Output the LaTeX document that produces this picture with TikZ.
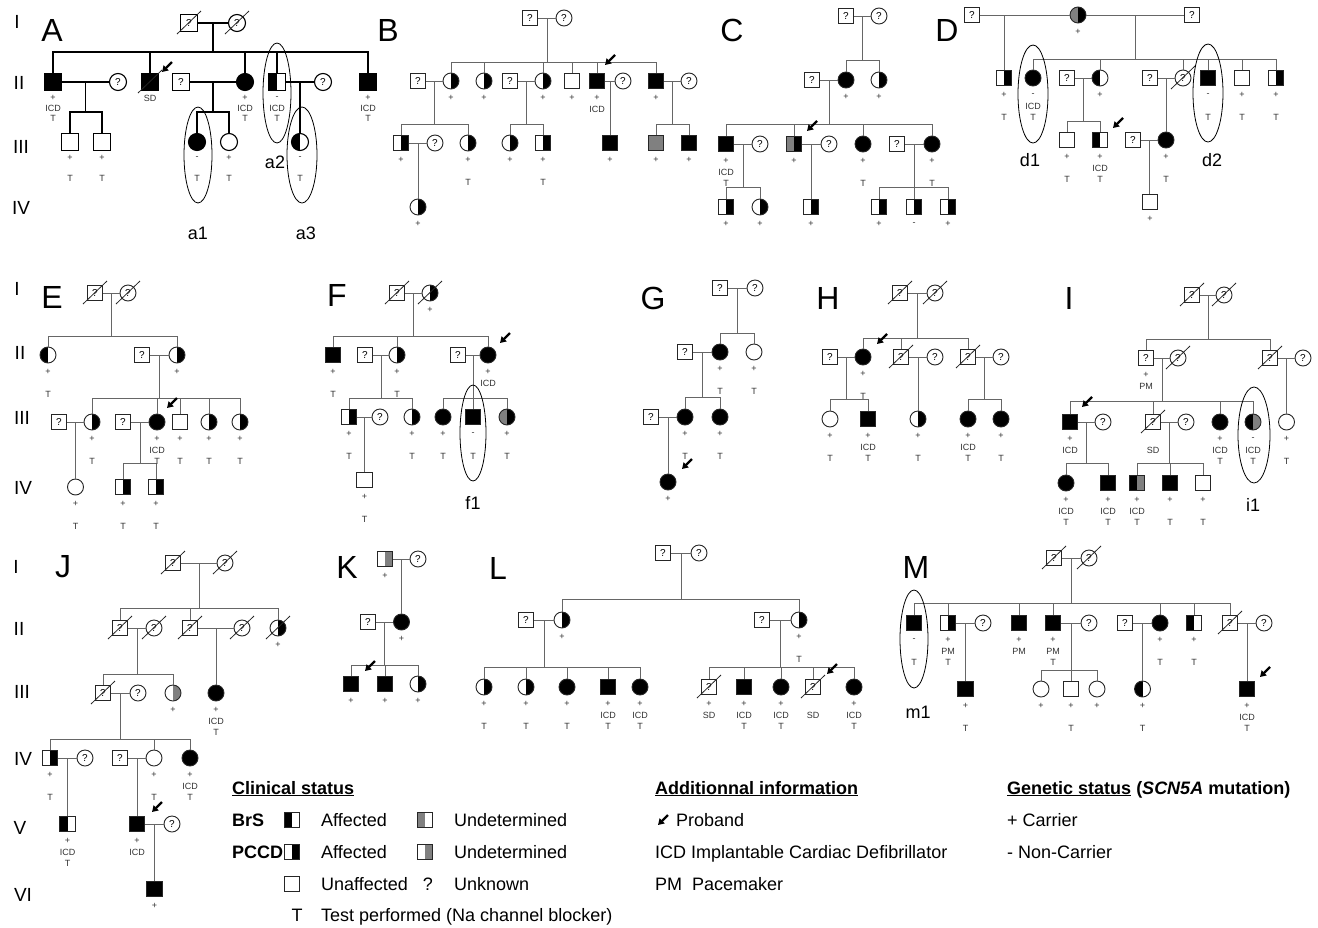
\documentclass[tikz,border=0pt]{standalone}
\usepackage{fontspec}
\setmainfont{Liberation Sans}
\usetikzlibrary{calc,arrows.meta}
\definecolor{gr}{gray}{0.5}
\newcommand\Dead[1]{\draw[line width=0.8pt,black!85] ([shift={(-12pt,-11pt)}]#1.center) -- ([shift={(12pt,12pt)}]#1.center);}
\newcommand\Mar[3]{\draw[ln] (#1) -- (#2); \coordinate (#3) at ($(#1)!0.5!(#2)$);}
\newcommand\Kids[3]{\draw[ln] (#1) -- (#1 |- 0,#2); \foreach \cc in {#3}{\draw[ln] (#1 |- 0,#2) -| (\cc.north);}}
\newcommand\One[2]{\draw[ln] (#1) -- (#1 |- #2.north);}
\newcommand\Prb[3]{\draw[prb] ([shift={(#2pt+10pt,#3pt+10pt)}]#1.center) -- ([shift={(#2pt,#3pt)}]#1.center);}
\def\oA{17pt}\def\oB{28pt}\def\oC{39pt}
\newcommand\Inf[4]{%
 \ifx&#2&\else\node[lbl] (#1a) at ([yshift=-\oA]#1.center) {#2};\fi
 \ifx&#3&\else\node[lbl] (#1b) at ([yshift=-\oB]#1.center) {#3};\fi
 \ifx&#4&\else\node[lbl] (#1c) at ([yshift=-\oC]#1.center) {#4};\fi}
\tikzset{
 sym/.style={draw=black!85, line width=0.9pt, inner sep=0pt, font=\fontsize{10}{10}\selectfont},
 sq/.style={sym, rectangle, minimum size=15.5pt},
 ci/.style={sym, circle, minimum size=16pt},
 blk/.style={fill=black},
 gry/.style={fill=gr},
 Lb/.style={path picture={\fill[black] (path picture bounding box.south west) rectangle (path picture bounding box.north);}},
 Rb/.style={path picture={\fill[black] (path picture bounding box.south) rectangle (path picture bounding box.north east);}},
 Lg/.style={path picture={\fill[gr] (path picture bounding box.south west) rectangle (path picture bounding box.north);}},
 Rg/.style={path picture={\fill[gr] (path picture bounding box.south) rectangle (path picture bounding box.north east);}},
 ln/.style={draw=black!60, line width=0.9pt},
 lbl/.style={font=\fontsize{9}{9}\selectfont, inner sep=0pt, text=black!80},
 gen/.style={font=\fontsize{19}{19}\selectfont, inner sep=0pt},
 pan/.style={font=\fontsize{32}{32}\selectfont, inner sep=0pt},
 elab/.style={font=\fontsize{18}{18}\selectfont, inner sep=0pt},
 oval/.style={draw=black, line width=0.8pt},
 prb/.style={line width=2.2pt, -{Triangle[length=6pt,width=7pt]}},
 lg/.style={font=\fontsize{18}{18}\selectfont, inner sep=0pt, anchor=base west},
}
\begin{document}
\begin{tikzpicture}[x=1pt,y=-1pt]
\fill[white] (0,0) rectangle (1318,927);
\useasboundingbox (0,0) rectangle (1318,927);
% generation labels
\node[gen] (g1) at (17,22) {I};
\node[gen] (g2) at (19,83) {II};
\node[gen] (g3) at (21,147) {III};
\node[gen] (g4) at (21,208) {IV};
\node[gen] (g5) at (17,289) {I};
\node[gen] (g6) at (20,353) {II};
\node[gen] (g7) at (22,418) {III};
\node[gen] (g8) at (23,488) {IV};
\node[gen] (g9) at (16,567) {I};
\node[gen] (g10) at (19,629) {II};
\node[gen] (g11) at (22,692) {III};
\node[gen] (g12) at (23,759) {IV};
\node[gen] (g13) at (20,828) {V};
\node[gen] (g14) at (23,895) {VI};
% panel letters
\node[pan] (pA) at (52,30) {A};
\node[pan] (pB) at (388,30) {B};
\node[pan] (pC) at (732,30) {C};
\node[pan] (pD) at (947,30) {D};
\node[pan] (pE) at (52,297) {E};
\node[pan] (pF) at (337,295) {F};
\node[pan] (pG) at (653,298) {G};
\node[pan] (pH) at (828,298) {H};
\node[pan] (pI) at (1069,298) {I};
\node[pan] (pJ) at (63,567) {J};
\node[pan] (pK) at (347,567) {K};
\node[pan] (pL) at (498,568) {L};
\node[pan] (pM) at (916,567) {M};

% ================= A
\begin{scope}[ln/.style={draw=black,line width=1.3pt}, sym/.append style={line width=1.1pt,draw=black}, sq/.append style={minimum size=17pt}, ci/.append style={minimum size=17pt}]
\def\oA{16pt}\def\oB{26pt}\def\oC{36pt}
\node[sq] (A1) at (189,23) {?}; \Dead{A1}
\node[ci] (A2) at (237,23) {?}; \Dead{A2}
\Mar{A1}{A2}{Am}
\node[sq,blk] (A3) at (53,82) {};
\node[ci] (A4) at (118,82) {?};
\node[sq,blk] (A5) at (150,82) {}; \Dead{A5}
\node[sq] (A6) at (181,82) {?};
\node[ci,blk] (A7) at (245,82) {};
\node[sq,Lb] (A8) at (277,82) {};
\node[ci] (A9) at (323,82) {?};
\node[sq,blk] (A10) at (368,82) {};
\Kids{Am}{52}{A3,A5,A7,A8,A10}
\Mar{A3}{A4}{Am2} \Mar{A6}{A7}{Am3} \Mar{A8}{A9}{Am4}
\node[sq] (A11) at (70,142) {};
\node[sq] (A12) at (102,142) {};
\node[ci,blk] (A13) at (197,142) {};
\node[ci] (A14) at (229,142) {};
\node[ci,Lb] (A15) at (300,142) {};
\Kids{Am2}{112}{A11,A12} \Kids{Am3}{112}{A13,A14} \One{Am4}{A15}
\Inf{A3}{+}{ICD}{T} \Inf{A5}{SD}{}{} \Inf{A7}{+}{ICD}{T} \Inf{A8}{-}{ICD}{T} \Inf{A10}{+}{ICD}{T}
\Inf{A11}{+}{}{T} \Inf{A12}{+}{}{T} \Inf{A13}{-}{}{T} \Inf{A14}{+}{}{T} \Inf{A15}{-}{}{T}
\Prb{A5}{12}{10}
\draw[oval] (198,155) ellipse [x radius=14, y radius=48];
\draw[oval] (277,93) ellipse [x radius=14, y radius=50];
\draw[oval] (302,155) ellipse [x radius=15, y radius=48];
\node[elab] (a1) at (198,233) {a1};
\node[elab] (a2) at (275,162) {a2};
\node[elab] (a3) at (306,233) {a3};
\end{scope}

% ================= B
\node[sq] (B1) at (530,18) {?};
\node[ci] (B2) at (564,18) {?};
\Mar{B1}{B2}{Bm}
\node[sq] (B3) at (418,81) {?};
\node[ci,Rb] (B4) at (451,81) {};
\node[ci,Rb] (B5) at (484,81) {};
\node[sq] (B6) at (510,81) {?};
\node[ci,Rb] (B7) at (543,81) {};
\node[sq] (B8) at (572,81) {};
\node[sq,blk] (B9) at (597,81) {};
\node[ci] (B10) at (623,81) {?};
\node[sq,blk] (B11) at (656,81) {};
\node[ci] (B12) at (689,81) {?};
\Kids{Bm}{62}{B4,B5,B7,B8,B9,B11}
\Mar{B3}{B4}{Bm2} \Mar{B6}{B7}{Bm3} \Mar{B9}{B10}{Bm4} \Mar{B11}{B12}{Bm5}
\node[sq,Rb] (B13) at (401,143) {};
\node[ci] (B14) at (435,143) {?};
\node[ci,Rb] (B15) at (468,143) {};
\node[ci,Rb] (B16) at (510,143) {};
\node[sq,Rb] (B17) at (543,143) {};
\node[sq,blk] (B18) at (610,143) {};
\node[sq,gry] (B19) at (656,143) {};
\node[sq,blk] (B20) at (689,143) {};
\Kids{Bm2}{124}{B13,B15} \Kids{Bm3}{124}{B16,B17} \One{Bm4}{B18} \Kids{Bm5}{124}{B19,B20}
\Mar{B13}{B14}{Bm6}
\node[ci,Rb] (B21) at (418,207) {};
\One{Bm6}{B21}
\Inf{B4}{+}{}{} \Inf{B5}{+}{}{} \Inf{B7}{+}{}{} \Inf{B8}{+}{}{} \Inf{B9}{+}{ICD}{} \Inf{B11}{+}{}{}
\Inf{B13}{+}{}{} \Inf{B15}{+}{}{T} \Inf{B16}{+}{}{} \Inf{B17}{+}{}{T} \Inf{B18}{+}{}{} \Inf{B19}{+}{}{} \Inf{B20}{+}{}{} \Inf{B21}{+}{}{}
\Prb{B9}{8}{16}

% ================= C
\node[sq] (C1) at (846,16) {?};
\node[ci] (C2) at (879,16) {?};
\Mar{C1}{C2}{Cm}
\node[sq] (C3) at (812,80) {?};
\node[ci,blk] (C4) at (846,80) {};
\node[ci,Rb] (C5) at (879,80) {};
\Kids{Cm}{60}{C4,C5}
\Mar{C3}{C4}{Cm2}
\node[sq,blk] (C6) at (726,144) {};
\node[ci] (C7) at (760,144) {?};
\node[sq,gry,Rb] (C8) at (794,144) {};
\node[ci] (C9) at (829,144) {?};
\node[ci,blk] (C10) at (863,144) {};
\node[sq] (C11) at (897,144) {?};
\node[ci,blk] (C12) at (932,144) {};
\Kids{Cm2}{124}{C6,C8,C10,C12}
\Mar{C6}{C7}{Cm3} \Mar{C8}{C9}{Cm4} \Mar{C11}{C12}{Cm5}
\node[sq,Rb] (C13) at (726,207) {};
\node[ci,Rb] (C14) at (760,207) {};
\node[sq,Rb] (C15) at (811,207) {};
\node[sq,Rb] (C16) at (879,207) {};
\node[sq,Rb] (C17) at (914,207) {};
\node[sq,Rb] (C18) at (948,207) {};
\Kids{Cm3}{187}{C13,C14} \One{Cm4}{C15} \Kids{Cm5}{187}{C16,C17,C18}
\Inf{C4}{+}{}{} \Inf{C5}{+}{}{} \Inf{C6}{+}{ICD}{T} \Inf{C8}{+}{}{} \Inf{C10}{+}{}{T} \Inf{C12}{+}{}{T}
\Inf{C13}{+}{}{} \Inf{C14}{+}{}{} \Inf{C15}{+}{}{} \Inf{C16}{+}{}{} \Inf{C17}{-}{}{} \Inf{C18}{+}{}{}
\Prb{C8}{13}{13}

% ================= D
\node[sq] (D1) at (972,15) {?};
\node[ci,gry,Rb] (D2) at (1078,15) {};
\node[sq] (D3) at (1192,15) {?};
\draw[ln] (D1) -- (D2);
\Mar{D2}{D3}{Dm}
\node[sq,Rb] (D4) at (1004,78) {};
\draw[ln] (D4 |- D1) -- (D4.north);
\node[ci,blk] (D5) at (1033,78) {};
\node[sq] (D6) at (1067,78) {?};
\node[ci,Lb] (D7) at (1100,78) {};
\node[sq] (D8) at (1150,78) {?};
\node[ci] (D9) at (1183,78) {?}; \Dead{D9}
\node[sq,blk] (D10) at (1208,78) {};
\node[sq] (D11) at (1242,78) {};
\node[sq,Rb] (D12) at (1276,78) {};
\Kids{Dm}{59}{D5,D7,D9,D10,D11,D12}
\Mar{D6}{D7}{Dm2} \Mar{D8}{D9}{Dm3}
\node[sq] (D13) at (1067,140) {};
\node[sq,Lb] (D14) at (1100,140) {};
\node[sq] (D15) at (1133,140) {?};
\node[ci,blk] (D16) at (1166,140) {};
\Kids{Dm2}{121}{D13,D14} \One{Dm3}{D16}
\Mar{D15}{D16}{Dm4}
\node[sq] (D17) at (1150,202) {};
\One{Dm4}{D17}
\Inf{D2}{+}{}{} \Inf{D4}{+}{}{T} \Inf{D5}{-}{ICD}{T} \Inf{D7}{+}{}{} \Inf{D10}{-}{}{T} \Inf{D11}{+}{}{T} \Inf{D12}{+}{}{T}
\Inf{D13}{+}{}{T} \Inf{D14}{+}{ICD}{T} \Inf{D16}{+}{}{T} \Inf{D17}{+}{}{}
\Prb{D14}{13}{12}
\draw[oval] (1033,94) ellipse [x radius=15, y radius=49];
\draw[oval] (1208,93) ellipse [x radius=15, y radius=49];
\node[elab] (d1) at (1030,160) {d1};
\node[elab] (d2) at (1212,160) {d2};

% ================= E
\node[sq] (E1) at (95,293) {?}; \Dead{E1}
\node[ci] (E2) at (128,293) {?}; \Dead{E2}
\Mar{E1}{E2}{Em}
\node[ci,Lb] (E3) at (48,355) {};
\node[sq] (E4) at (142,355) {?};
\node[ci,Rb] (E5) at (177,355) {};
\Kids{Em}{336}{E3,E5}
\Mar{E4}{E5}{Em2}
\node[sq] (E6) at (59,422) {?};
\node[ci,Rb] (E7) at (92,422) {};
\node[sq] (E8) at (123,422) {?};
\node[ci,blk] (E9) at (157,422) {};
\node[sq] (E10) at (180,422) {};
\node[ci,Rb] (E11) at (209,422) {};
\node[ci,Rb] (E12) at (240,422) {};
\Kids{Em2}{398}{E7,E9,E10,E11,E12}
\Mar{E6}{E7}{Em3} \Mar{E8}{E9}{Em4}
\node[ci] (E13) at (75.5,487) {};
\node[sq,Rb] (E14) at (123,487) {};
\node[sq,Rb] (E15) at (156,487) {};
\One{Em3}{E13} \Kids{Em4}{463}{E14,E15}
\Inf{E3}{+}{}{T} \Inf{E5}{+}{}{} \Inf{E7}{+}{}{T} \Inf{E9}{+}{ICD}{T} \Inf{E10}{+}{}{T} \Inf{E11}{+}{}{T} \Inf{E12}{+}{}{T}
\Inf{E13}{+}{}{T} \Inf{E14}{+}{}{T} \Inf{E15}{+}{}{T}
\Prb{E9}{10}{14}

% ================= F
\node[sq] (F1) at (397,293) {?}; \Dead{F1}
\node[ci,Rb] (F2) at (430,293) {}; \Dead{F2}
\Mar{F1}{F2}{Fm}
\node[sq,blk] (F3) at (333,355) {};
\node[sq] (F4) at (365,355) {?};
\node[ci,Rb] (F5) at (397,355) {};
\node[sq] (F6) at (458,355) {?};
\node[ci,blk] (F7) at (488,355) {};
\Kids{Fm}{336}{F3,F5,F7}
\Mar{F4}{F5}{Fm2} \Mar{F6}{F7}{Fm3}
\node[sq,Rb] (F8) at (349,417) {};
\node[ci] (F9) at (380,417) {?};
\node[ci,Rb] (F10) at (412,417) {};
\node[ci,blk] (F11) at (443,417) {};
\node[sq,blk] (F12) at (473,417) {};
\node[ci,gry,Rb] (F13) at (507,417) {};
\Kids{Fm2}{398}{F8,F10} \Kids{Fm3}{398}{F11,F12,F13}
\Mar{F8}{F9}{Fm4}
\node[sq] (F14) at (364.5,480) {};
\One{Fm4}{F14}
\Inf{F2}{+}{}{} \Inf{F3}{+}{}{T} \Inf{F5}{+}{}{T} \Inf{F7}{+}{ICD}{}
\Inf{F8}{+}{}{T} \Inf{F10}{+}{}{T} \Inf{F11}{+}{}{T} \Inf{F12}{-}{}{T} \Inf{F13}{+}{}{T} \Inf{F14}{+}{}{T}
\Prb{F7}{12}{12}
\draw[oval] (473,433) ellipse [x radius=13, y radius=48];
\node[elab] (f1) at (473,503) {f1};

% ================= G
\node[sq] (G1) at (720,288) {?};
\node[ci] (G2) at (755,288) {?};
\Mar{G1}{G2}{Gm}
\node[sq] (G3) at (685,352) {?};
\node[ci,blk] (G4) at (720,352) {};
\node[ci] (G5) at (754,352) {};
\Kids{Gm}{333}{G4,G5}
\Mar{G3}{G4}{Gm2}
\node[sq] (G6) at (651,417) {?};
\node[ci,blk] (G7) at (685,417) {};
\node[ci,blk] (G8) at (720,417) {};
\Kids{Gm2}{397}{G7,G8}
\Mar{G6}{G7}{Gm3}
\node[ci,blk] (G9) at (668,482) {};
\One{Gm3}{G9}
\Inf{G4}{+}{}{T} \Inf{G5}{+}{}{T} \Inf{G7}{+}{}{T} \Inf{G8}{+}{}{T} \Inf{G9}{+}{}{}
\Prb{G9}{14}{13}

% ================= H
\node[sq] (H1) at (900,293) {?}; \Dead{H1}
\node[ci] (H2) at (935,293) {?}; \Dead{H2}
\Mar{H1}{H2}{Hm}
\node[sq] (H3) at (830,357) {?};
\node[ci,blk] (H4) at (863,357) {};
\node[sq] (H5) at (901,357) {?}; \Dead{H5}
\node[ci] (H6) at (935,357) {?};
\node[sq] (H7) at (968,357) {?}; \Dead{H7}
\node[ci] (H8) at (1001,357) {?};
\Kids{Hm}{338}{H4,H5,H7}
\Mar{H3}{H4}{Hm2} \Mar{H5}{H6}{Hm3} \Mar{H7}{H8}{Hm4}
\node[ci] (H9) at (830,419) {};
\node[sq,blk] (H10) at (868,419) {};
\node[ci,Rb] (H11) at (918,419) {};
\node[ci,blk] (H12) at (968,419) {};
\node[ci,blk] (H13) at (1001,419) {};
\Kids{Hm2}{399}{H9,H10} \One{Hm3}{H11} \Kids{Hm4}{399}{H12,H13}
\Inf{H4}{+}{}{T} \Inf{H9}{+}{}{T} \Inf{H10}{+}{ICD}{T} \Inf{H11}{+}{}{T} \Inf{H12}{+}{ICD}{T} \Inf{H13}{+}{}{T}
\Prb{H4}{14}{13}

% ================= I
\node[sq] (I1) at (1192,295) {?}; \Dead{I1}
\node[ci] (I2) at (1224,295) {?}; \Dead{I2}
\Mar{I1}{I2}{Im}
\node[sq] (I3) at (1146,358) {?};
\node[ci] (I4) at (1178,358) {?}; \Dead{I4}
\node[sq] (I5) at (1270,358) {?}; \Dead{I5}
\node[ci] (I6) at (1303,358) {?};
\Kids{Im}{339}{I3,I5}
\Mar{I3}{I4}{Im2} \Mar{I5}{I6}{Im3}
\node[sq,blk] (I7) at (1070,422) {};
\node[ci] (I8) at (1103,422) {?};
\node[sq] (I9) at (1153,422) {?}; \Dead{I9}
\node[ci] (I10) at (1186,422) {?};
\node[ci,blk] (I11) at (1220,422) {};
\node[ci,gry,Lb] (I12) at (1253,422) {};
\node[ci] (I13) at (1286.5,422) {};
\Kids{Im2}{401}{I7,I9,I11,I12} \One{Im3}{I13}
\Mar{I7}{I8}{Im4} \Mar{I9}{I10}{Im5}
\node[ci,blk] (I14) at (1066,483) {};
\node[sq,blk] (I15) at (1108,483) {};
\node[sq,gry,Lb] (I16) at (1137,483) {};
\node[sq,blk] (I17) at (1170,483) {};
\node[sq] (I18) at (1203,483) {};
\Kids{Im4}{463}{I14,I15} \Kids{Im5}{463}{I16,I17,I18}
\Inf{I3}{+}{PM}{} \Inf{I7}{+}{ICD}{} \Inf{I9}{}{SD}{} \Inf{I11}{+}{ICD}{T} \Inf{I12}{-}{ICD}{T} \Inf{I13}{+}{}{T}
\Inf{I14}{+}{ICD}{T} \Inf{I15}{+}{ICD}{T} \Inf{I16}{+}{ICD}{T} \Inf{I17}{+}{}{T} \Inf{I18}{+}{}{T}
\Prb{I7}{12}{15}
\draw[oval] (1254,435) ellipse [x radius=16, y radius=48];
\node[elab] (i1) at (1253,505) {i1};

% ================= J
\node[sq] (J1) at (173,563) {?}; \Dead{J1}
\node[ci] (J2) at (225,563) {?}; \Dead{J2}
\Mar{J1}{J2}{Jm}
\node[sq] (J3) at (120,628) {?}; \Dead{J3}
\node[ci] (J4) at (154,628) {?}; \Dead{J4}
\node[sq] (J5) at (190,628) {?}; \Dead{J5}
\node[ci] (J6) at (242,628) {?}; \Dead{J6}
\node[ci,Rb] (J7) at (278,628) {}; \Dead{J7}
\Kids{Jm}{608}{J3,J5,J7}
\Mar{J3}{J4}{Jm2} \Mar{J5}{J6}{Jm3}
\node[sq] (J8) at (103,693) {?}; \Dead{J8}
\node[ci] (J9) at (138,693) {?};
\node[ci,Rg] (J10) at (173,693) {};
\node[ci,blk] (J11) at (216,693) {};
\Kids{Jm2}{674}{J8,J10} \One{Jm3}{J11}
\Mar{J8}{J9}{Jm4}
\node[sq,Rb] (J12) at (50,758) {};
\node[ci] (J13) at (85,758) {?};
\node[sq] (J14) at (120,758) {?};
\node[ci] (J15) at (154,758) {};
\node[ci,blk] (J16) at (190,758) {};
\Kids{Jm4}{739}{J12,J15,J16}
\Mar{J12}{J13}{Jm5} \Mar{J14}{J15}{Jm6}
\node[sq,Lb] (J17) at (67.5,824) {};
\node[sq,blk] (J18) at (137,824) {};
\node[ci] (J19) at (172,824) {?};
\One{Jm5}{J17} \One{Jm6}{J18}
\Mar{J18}{J19}{Jm7}
\node[sq,blk] (J20) at (154.5,889) {};
\One{Jm7}{J20}
\Inf{J7}{+}{}{} \Inf{J10}{+}{}{} \Inf{J11}{+}{ICD}{T} \Inf{J12}{+}{}{T} \Inf{J15}{+}{}{T} \Inf{J16}{+}{ICD}{T}
\Inf{J17}{+}{ICD}{T} \Inf{J18}{+}{ICD}{} \Inf{J20}{+}{}{}
\Prb{J18}{15}{12}

% ================= K
\node[sq,Rg] (K1) at (385,559) {};
\node[ci] (K2) at (418,559) {?};
\Mar{K1}{K2}{Km}
\node[sq] (K3) at (368,622) {?};
\node[ci,blk] (K4) at (401.5,622) {};
\One{Km}{K4}
\Mar{K3}{K4}{Km2}
\node[sq,blk] (K5) at (351,684) {};
\node[sq,blk] (K6) at (385,684) {};
\node[ci,Rb] (K7) at (418,684) {};
\Kids{Km2}{665}{K5,K6,K7}
\Inf{K1}{+}{}{} \Inf{K4}{+}{}{} \Inf{K5}{+}{}{} \Inf{K6}{+}{}{} \Inf{K7}{+}{}{}
\Prb{K5}{14}{13}

% ================= L
\node[sq] (L1) at (663,553) {?};
\node[ci] (L2) at (699,553) {?};
\Mar{L1}{L2}{Lm}
\node[sq] (L3) at (526,620) {?};
\node[ci,Rb] (L4) at (562,620) {};
\node[sq] (L5) at (762,620) {?};
\node[ci,Rb] (L6) at (799,620) {};
\Kids{Lm}{599}{L4,L6}
\Mar{L3}{L4}{Lm2} \Mar{L5}{L6}{Lm3}
\node[ci,Rb] (L7) at (484,687) {};
\node[ci,Rb] (L8) at (526,687) {};
\node[ci,blk] (L9) at (567,687) {};
\node[sq,blk] (L10) at (608,687) {};
\node[ci,blk] (L11) at (640,687) {};
\node[sq] (L12) at (709,687) {?}; \Dead{L12}
\node[sq,blk] (L13) at (744,687) {};
\node[ci,blk] (L14) at (781,687) {};
\node[sq] (L15) at (813,687) {?}; \Dead{L15}
\node[ci,blk] (L16) at (854,687) {};
\Kids{Lm2}{667}{L7,L8,L9,L10,L11} \Kids{Lm3}{667}{L12,L13,L14,L15,L16}
\Inf{L4}{+}{}{} \Inf{L6}{+}{}{T}
\Inf{L7}{+}{}{T} \Inf{L8}{+}{}{T} \Inf{L9}{+}{}{T} \Inf{L10}{+}{ICD}{T} \Inf{L11}{+}{ICD}{T}
\Inf{L12}{+}{SD}{} \Inf{L13}{+}{ICD}{T} \Inf{L14}{+}{ICD}{T} \Inf{L15}{}{SD}{} \Inf{L16}{+}{ICD}{T}
\Prb{L15}{14}{13}

% ================= M
\node[sq] (M1) at (1054,558) {?}; \Dead{M1}
\node[ci] (M2) at (1089,558) {?}; \Dead{M2}
\Mar{M1}{M2}{Mm}
\node[sq,blk] (M3) at (914,623) {};
\node[sq,Rb] (M4) at (948,623) {};
\node[ci] (M5) at (983,623) {?};
\node[sq,blk] (M6) at (1019,623) {};
\node[sq,blk] (M7) at (1053,623) {};
\node[ci] (M8) at (1089,623) {?};
\node[sq] (M9) at (1125,623) {?};
\node[ci,blk] (M10) at (1160,623) {};
\node[sq,Lb] (M11) at (1194,623) {};
\node[sq] (M12) at (1230,623) {?}; \Dead{M12}
\node[ci] (M13) at (1264,623) {?};
\Kids{Mm}{603}{M3,M4,M6,M7,M10,M11,M12}
\Mar{M4}{M5}{Mm2} \Mar{M7}{M8}{Mm3} \Mar{M9}{M10}{Mm4} \Mar{M12}{M13}{Mm5}
\node[sq,blk] (M14) at (965.5,689) {};
\node[ci] (M15) at (1041,689) {};
\node[sq] (M16) at (1071,689) {};
\node[ci] (M17) at (1097,689) {};
\node[ci,Lb] (M18) at (1142.5,689) {};
\node[sq,blk] (M19) at (1247,689) {};
\One{Mm2}{M14} \Kids{Mm3}{670}{M15,M16,M17} \One{Mm4}{M18} \One{Mm5}{M19}
\Inf{M3}{-}{}{T} \Inf{M4}{+}{PM}{T} \Inf{M6}{+}{PM}{} \Inf{M7}{+}{PM}{T} \Inf{M10}{+}{}{T} \Inf{M11}{+}{}{T}
\Inf{M14}{+}{}{T} \Inf{M15}{+}{}{} \Inf{M16}{+}{}{T} \Inf{M17}{+}{}{} \Inf{M18}{+}{}{T} \Inf{M19}{+}{ICD}{T}
\Prb{M19}{13}{12}
\draw[oval] (914,639) ellipse [x radius=14, y radius=49];
\node[elab] (m1) at (918,712) {m1};

% ================= legend
\node[lg] (lg1) at (232,794) {\textbf{\underline{Clinical status}}};
\node[lg] (lg2) at (232,826.5) {\textbf{BrS}};
\node[sq,Lb,minimum size=15pt] (lg3) at (292,820) {};
\node[lg] (lg4) at (321,826.5) {Affected};
\node[sq,Lg,minimum size=15pt] (lg5) at (425,820) {};
\node[lg] (lg6) at (454,826.5) {Undetermined};
\node[lg] (lg7) at (232,858.5) {\textbf{PCCD}};
\node[sq,Rb,minimum size=15pt] (lg8) at (292,852) {};
\node[lg] (lg9) at (321,858.5) {Affected};
\node[sq,Rg,minimum size=15pt] (lg10) at (425,852) {};
\node[lg] (lg11) at (454,858.5) {Undetermined};
\node[sq,minimum size=15pt] (lg12) at (292,884) {};
\node[lg] (lg13) at (321,890.5) {Unaffected};
\node[lg,anchor=base] (lg14) at (428,890.5) {?};
\node[lg] (lg15) at (454,890.5) {Unknown};
\node[lg,anchor=base] (lg16) at (297,921.5) {T};
\node[lg] (lg17) at (321,921.5) {Test performed (Na channel blocker)};
\node[lg] (lg20) at (655,794) {\textbf{\underline{Additionnal information}}};
\coordinate (lgP) at (658,825);
\draw[prb] ([shift={(10pt,10pt)}]lgP) -- (lgP);
\node[lg] (lg21) at (676,826.5) {Proband};
\node[lg] (lg22) at (655,858.5) {ICD Implantable Cardiac Defibrillator};
\node[lg] (lg23) at (655,890.5) {PM\ \ Pacemaker};
\node[lg] (lg30) at (1007,794) {\textbf{\underline{Genetic status} (\textit{SCN5A} mutation)}};
\node[lg] (lg31) at (1007,826.5) {+ Carrier};
\node[lg] (lg32) at (1007,858.5) {- Non-Carrier};
\end{tikzpicture}
\end{document}
